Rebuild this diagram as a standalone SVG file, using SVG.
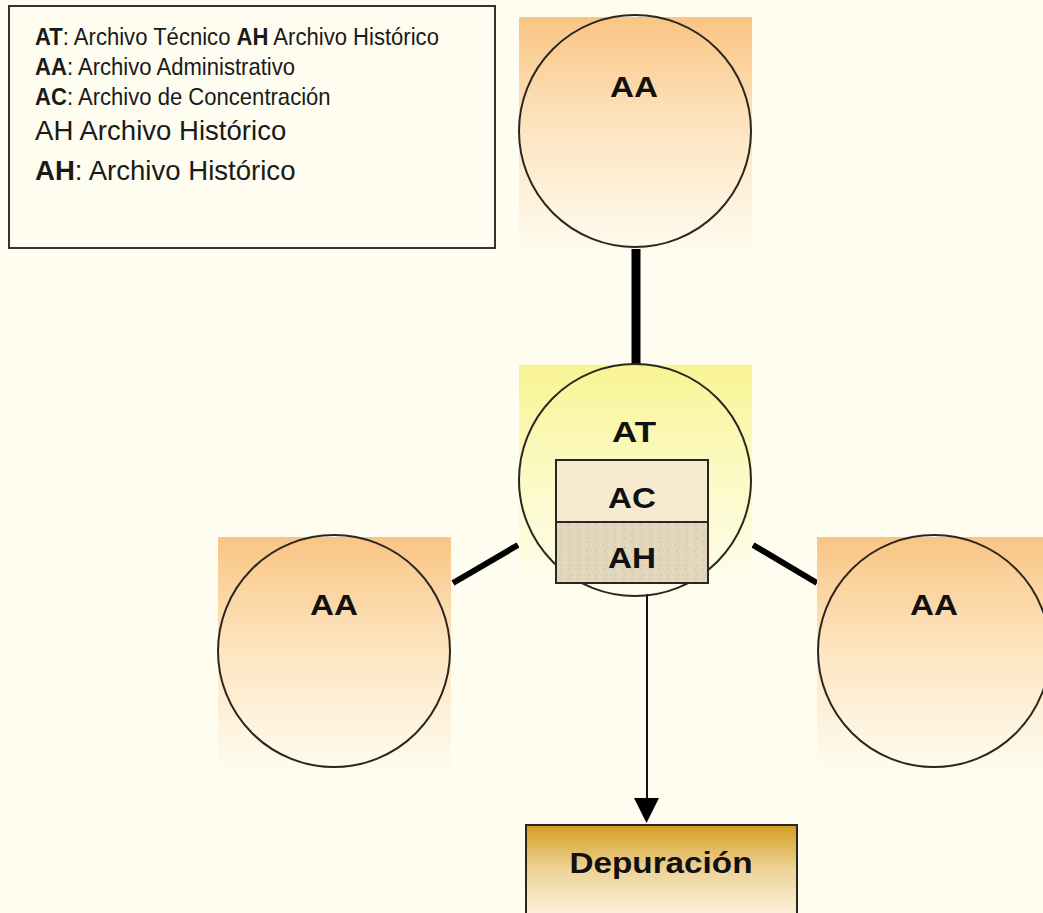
<svg xmlns="http://www.w3.org/2000/svg" width="1043" height="913" viewBox="0 0 1043 913">
  <style>
    .ring { fill: none; stroke: #2b2620; stroke-width: 2; }
    .lbl { font-family: "Liberation Sans", Arial, sans-serif; font-weight: bold; fill: #111; text-anchor: middle; }
    .leg { font-family: "Liberation Sans", Arial, sans-serif; fill: #1a1a1a; }
    .leg tspan.b { font-weight: bold; }
    .link { stroke: #000; stroke-linecap: butt; fill: none; }
  </style>
  <defs>
    <linearGradient id="orange" x1="0" y1="0" x2="0" y2="1">
      <stop offset="0" stop-color="#f9c584"/>
      <stop offset="0.45" stop-color="#fde3bd"/>
      <stop offset="1" stop-color="#fefbee"/>
    </linearGradient>
    <linearGradient id="yellow" x1="0" y1="0" x2="0" y2="1">
      <stop offset="0" stop-color="#f8f494"/>
      <stop offset="0.5" stop-color="#fcfac6"/>
      <stop offset="1" stop-color="#fefdf0"/>
    </linearGradient>
    <linearGradient id="gold" x1="0" y1="0" x2="0" y2="1">
      <stop offset="0" stop-color="#d39d1f"/>
      <stop offset="0.45" stop-color="#eed39a"/>
      <stop offset="1" stop-color="#fdf8e8"/>
    </linearGradient>
    <pattern id="stipple" width="9" height="9" patternUnits="userSpaceOnUse">
      <rect width="9" height="9" fill="#e2d6bd"/>
      <circle cx="2" cy="2" r="0.8" fill="#cbbd9f"/>
      <circle cx="6.5" cy="5" r="0.7" fill="#f0e8d6"/>
      <circle cx="3.5" cy="7.5" r="0.7" fill="#c9ba9c"/>
      <circle cx="7.5" cy="1" r="0.6" fill="#efe6d2"/>
    </pattern>
  </defs>

  <rect width="1043" height="913" fill="#fefdf0"/>

  <!-- connectors -->
  <g id="connectors">
    <line class="link" x1="636" y1="249" x2="636" y2="364" stroke-width="9"/>
    <line class="link" x1="453" y1="583" x2="518" y2="545" stroke-width="6"/>
    <line class="link" x1="753" y1="545" x2="817" y2="583" stroke-width="6"/>
    <line x1="647" y1="583" x2="647" y2="798" stroke="#111" stroke-width="2"/>
    <path d="M634,798 L659,798 L646.5,823 Z" fill="#000"/>
  </g>

  <!-- legend: narrow lines are the regular face squeezed horizontally -->
  <g id="legend">
    <rect x="9" y="6" width="486" height="242" fill="#fefdf0" stroke="#333" stroke-width="2"/>
    <text class="leg" font-size="24" transform="translate(35,45) scale(0.92,1)"><tspan class="b">AT</tspan>: Archivo Técnico <tspan class="b">AH</tspan> Archivo Histórico</text>
    <text class="leg" font-size="24" transform="translate(35,75) scale(0.92,1)"><tspan class="b">AA</tspan>: Archivo Administrativo</text>
    <text class="leg" font-size="24" transform="translate(35,105) scale(0.92,1)"><tspan class="b">AC</tspan>: Archivo de Concentración</text>
    <text class="leg" font-size="28" transform="translate(35,140) scale(0.985,1)">AH Archivo Histórico</text>
    <text class="leg" font-size="28" transform="translate(35,180) scale(0.985,1)"><tspan class="b">AH</tspan>: Archivo Histórico</text>
  </g>

  <!-- top administrative archive -->
  <g id="aa-top">
    <rect x="519" y="17" width="233" height="231" fill="url(#orange)"/>
    <circle class="ring" cx="635" cy="131" r="116"/>
    <text class="lbl" x="634" y="97" font-size="30" textLength="48" lengthAdjust="spacingAndGlyphs">AA</text>
  </g>

  <!-- left administrative archive -->
  <g id="aa-left">
    <rect x="218" y="537" width="233" height="231" fill="url(#orange)"/>
    <circle class="ring" cx="334" cy="651" r="116"/>
    <text class="lbl" x="334" y="615" font-size="30" textLength="48" lengthAdjust="spacingAndGlyphs">AA</text>
  </g>

  <!-- right administrative archive -->
  <g id="aa-right">
    <rect x="817" y="537" width="233" height="231" fill="url(#orange)"/>
    <circle class="ring" cx="934" cy="651" r="116"/>
    <text class="lbl" x="934" y="615" font-size="30" textLength="48" lengthAdjust="spacingAndGlyphs">AA</text>
  </g>

  <!-- technical archive with concentration and historical stacks -->
  <g id="at-center">
    <rect x="519" y="365" width="233" height="229" fill="url(#yellow)"/>
    <circle class="ring" cx="635" cy="480" r="116"/>
    <text class="lbl" x="634" y="442" font-size="30" textLength="44" lengthAdjust="spacingAndGlyphs">AT</text>
  </g>
  <g id="ac">
    <rect x="556" y="460" width="152" height="62" fill="#f6ebcf" stroke="#2b2620" stroke-width="2"/>
    <text class="lbl" x="632" y="508" font-size="30" textLength="48" lengthAdjust="spacingAndGlyphs">AC</text>
  </g>
  <g id="ah">
    <rect x="556" y="522" width="152" height="61" fill="url(#stipple)" stroke="#2b2620" stroke-width="2"/>
    <text class="lbl" x="632" y="568" font-size="30" textLength="48" lengthAdjust="spacingAndGlyphs">AH</text>
  </g>

  <!-- purge step -->
  <g id="depuracion">
    <rect x="526" y="825" width="271" height="100" fill="url(#gold)" stroke="#2b2620" stroke-width="2"/>
    <text class="lbl" x="661" y="873" font-size="29" textLength="183" lengthAdjust="spacingAndGlyphs">Depuración</text>
  </g>
</svg>
